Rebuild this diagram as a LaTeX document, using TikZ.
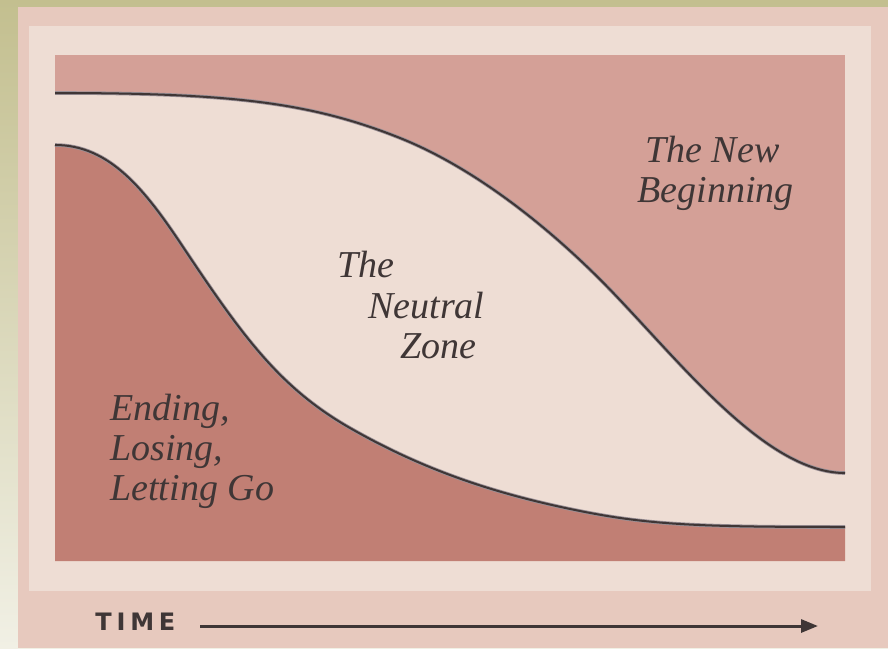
\documentclass[tikz,border=0pt]{standalone}
\usepackage{fontspec}
\setmainfont{Liberation Serif}
\newfontfamily\timefont[LetterSpace=20]{DejaVu Sans}
\usetikzlibrary{arrows.meta}
\definecolor{olive}{HTML}{C3BF8F}
\definecolor{olivelight}{HTML}{F1F0E5}
\definecolor{framepink}{HTML}{E7C9BE}
\definecolor{cream}{HTML}{EEDDD4}
\definecolor{newpink}{HTML}{D4A097}
\definecolor{endred}{HTML}{C17F74}
\definecolor{ink}{HTML}{3F3636}
\definecolor{halo}{HTML}{9A9096}
\newcommand{\newedge}{(55,93) .. controls (230,93) and (310,102) .. (400,138) .. controls (480,170) and (560,236) .. (620,300) .. controls (690,374) and (770,473) .. (845,473)}
\newcommand{\lossedge}{(55,145) .. controls (110,145) and (145,190) .. (183,247) .. controls (243,337) and (280,388) .. (350,428) .. controls (420,468) and (490,493) .. (580,511) .. controls (650,525) and (700,527) .. (845,527)}
\tikzset{zone/.style={font=\itshape\fontsize{19}{20}\selectfont,text=ink,inner sep=0pt,anchor=base west},
  edge/.style={ink,line width=1pt,preaction={draw=halo,line width=1.8pt}},
  arr/.style={-{Triangle[length=8.5pt,width=6.5pt]},ink,line width=1.5pt}}
\begin{document}
\begin{tikzpicture}[x=0.5pt,y=-0.5pt]
\useasboundingbox (0,0) rectangle (888,648);
\shade[top color=olive,bottom color=olivelight] (0,0) rectangle (888,648);
\fill[framepink] (18,7) rectangle (888,648);
\fill[cream] (29,26) rectangle (871,591);
\fill[newpink] (55,55) rectangle (845,561);
\fill[cream] \newedge -- (845,561) -- (55,561) -- cycle;
\fill[endred] \lossedge -- (845,561) -- (55,561) -- cycle;
\draw[edge] \newedge;
\draw[edge] \lossedge;
\node[zone] (new1) at (645,162) {The New};
\node[zone] (new2) at (637,202) {Beginning};
\node[zone] (neu1) at (337,277) {The};
\node[zone] (neu2) at (368,318) {Neutral};
\node[zone] (neu3) at (400,358) {Zone};
\node[zone] (end1) at (110,420) {Ending,};
\node[zone] (end2) at (110,460) {Losing,};
\node[zone] (end3) at (110,500) {Letting Go};
\node[anchor=base west,inner sep=0pt,text=ink,font=\timefont\bfseries\fontsize{12}{14}\selectfont] (time) at (95,630) {TIME};
\coordinate (tstart) at (200,626);
\coordinate (tend) at (818,626);
\draw[arr] (tstart) -- (tend);
\end{tikzpicture}
\end{document}
